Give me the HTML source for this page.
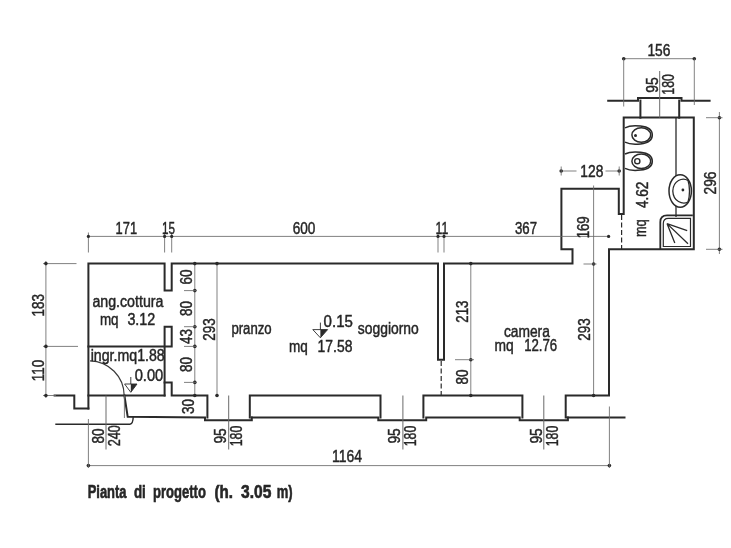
<!DOCTYPE html>
<html><head><meta charset="utf-8"><title>Pianta di progetto</title>
<style>
html,body{margin:0;padding:0;background:#fff;}
body{width:731px;height:548px;overflow:hidden;font-family:"Liberation Sans",sans-serif;}
svg{display:block;filter:blur(0.35px);}
text{font-family:"Liberation Sans",sans-serif;}
</style></head><body>
<svg width="731" height="548" viewBox="0 0 731 548">
<rect width="731" height="548" fill="#fff"/>
<path d="M88.4 408.5 V263.6 H164.6 V290.6 H171.7 V263.6 H438 V359.8 H444 V263.6 H572.5 V249.2 H561.4 V188.7 H618.8 V214 H623.7 V117.6 H693.8 V249.2 H609 V395.5 H565.7 V417.6 H624.5" fill="none" stroke="#2a2a2a" stroke-width="2.0" stroke-linejoin="miter" stroke-linecap="square"/>
<path d="M88.4 346.4 H171.7 V326.7 H164.6 V395.5" fill="none" stroke="#2a2a2a" stroke-width="2.0" stroke-linejoin="miter" stroke-linecap="square"/>
<path d="M164.6 382.4 H171.7 V395.5 H207.4 V417.6" fill="none" stroke="#2a2a2a" stroke-width="2.0" stroke-linejoin="miter" stroke-linecap="square"/>
<path d="M88.4 395.5 H164.6" fill="none" stroke="#2a2a2a" stroke-width="2.0" stroke-linejoin="miter" stroke-linecap="square"/>
<path d="M54.6 395.5 H74.3 V408.5 H88.4" fill="none" stroke="#2a2a2a" stroke-width="2.0" stroke-linejoin="miter" stroke-linecap="square"/>
<path d="M124.4 395.5 L127.7 416.8 L205 417.6 V420.3 H251.8 V417.6" fill="none" stroke="#2a2a2a" stroke-width="2.0" stroke-linejoin="miter" stroke-linecap="square"/>
<path d="M249.8 417.6 V395.5 H380.5 V417.6" fill="none" stroke="#2a2a2a" stroke-width="2.0" stroke-linejoin="miter" stroke-linecap="square"/>
<path d="M251.8 417.6 H378.3 V420.3 H426.2 V417.6 H519.7 V420.3 H567.9 V417.6" fill="none" stroke="#2a2a2a" stroke-width="2.0" stroke-linejoin="miter" stroke-linecap="square"/>
<path d="M423.4 417.6 V395.5 H522.4 V417.6" fill="none" stroke="#2a2a2a" stroke-width="2.0" stroke-linejoin="miter" stroke-linecap="square"/>
<path d="M608.2 100.7 H638 V98.1 H681.5 V100.7 H709.6" fill="none" stroke="#2a2a2a" stroke-width="2.0" stroke-linejoin="miter" stroke-linecap="square"/>
<path d="M640.4 100.6 V117.7" fill="none" stroke="#2a2a2a" stroke-width="2.0" stroke-linejoin="miter" stroke-linecap="square"/>
<path d="M679.2 100.6 V117.7" fill="none" stroke="#2a2a2a" stroke-width="2.0" stroke-linejoin="miter" stroke-linecap="square"/>
<path d="M56 424.3 H129.9 Q133 424 133.2 417" fill="none" stroke="#2a2a2a" stroke-width="1.4" stroke-linejoin="miter" stroke-linecap="square"/>
<path d="M676 117.7 V217" fill="none" stroke="#2a2a2a" stroke-width="1.3" />
<path d="M441.2 361 V395.5" fill="none" stroke="#2a2a2a" stroke-width="1.2" stroke-dasharray="5 2.5"/>
<path d="M621.6 215 V249" fill="none" stroke="#2a2a2a" stroke-width="1.2" stroke-dasharray="5 2.5"/>
<path d="M88.4 236.4 H609" fill="none" stroke="#6a6a6a" stroke-width="0.85" />
<path d="M88.4 232.5 V252.5" fill="none" stroke="#6a6a6a" stroke-width="0.85" />
<circle cx="88.4" cy="236.4" r="1.6" fill="#2a2a2a"/>
<path d="M164.6 232.5 V252.5" fill="none" stroke="#6a6a6a" stroke-width="0.85" />
<circle cx="164.6" cy="236.4" r="1.6" fill="#2a2a2a"/>
<path d="M171.7 232.5 V252.5" fill="none" stroke="#6a6a6a" stroke-width="0.85" />
<circle cx="171.7" cy="236.4" r="1.6" fill="#2a2a2a"/>
<path d="M438 232.5 V252.5" fill="none" stroke="#6a6a6a" stroke-width="0.85" />
<circle cx="438" cy="236.4" r="1.6" fill="#2a2a2a"/>
<path d="M444 232.5 V252.5" fill="none" stroke="#6a6a6a" stroke-width="0.85" />
<circle cx="444" cy="236.4" r="1.6" fill="#2a2a2a"/>
<circle cx="608.6" cy="236.4" r="1.6" fill="#2a2a2a"/>
<path d="M45.9 261 V398" fill="none" stroke="#6a6a6a" stroke-width="0.85" />
<path d="M43 263.6 H76.5" fill="none" stroke="#6a6a6a" stroke-width="0.85" />
<path d="M43 346.4 H78" fill="none" stroke="#6a6a6a" stroke-width="0.85" />
<path d="M43 395.5 H56" fill="none" stroke="#6a6a6a" stroke-width="0.85" />
<circle cx="45.9" cy="263.6" r="1.8" fill="#2a2a2a"/>
<circle cx="45.9" cy="346.4" r="1.8" fill="#2a2a2a"/>
<circle cx="45.9" cy="395.5" r="1.8" fill="#2a2a2a"/>
<path d="M194.8 263.6 V395.5" fill="none" stroke="#6a6a6a" stroke-width="0.85" />
<circle cx="194.8" cy="263.6" r="1.8" fill="#2a2a2a"/>
<circle cx="194.8" cy="290.6" r="1.8" fill="#2a2a2a"/>
<circle cx="194.8" cy="326.7" r="1.8" fill="#2a2a2a"/>
<circle cx="194.8" cy="346.4" r="1.8" fill="#2a2a2a"/>
<circle cx="194.8" cy="382.4" r="1.8" fill="#2a2a2a"/>
<circle cx="194.8" cy="395.5" r="1.8" fill="#2a2a2a"/>
<path d="M184 290.6 H197" fill="none" stroke="#6a6a6a" stroke-width="0.85" />
<path d="M184 326.7 H197" fill="none" stroke="#6a6a6a" stroke-width="0.85" />
<path d="M184 346.4 H197" fill="none" stroke="#6a6a6a" stroke-width="0.85" />
<path d="M184 382.4 H197" fill="none" stroke="#6a6a6a" stroke-width="0.85" />
<path d="M217 263.6 V395.5" fill="none" stroke="#6a6a6a" stroke-width="0.85" />
<circle cx="217" cy="263.6" r="1.8" fill="#2a2a2a"/>
<circle cx="217" cy="395.5" r="1.8" fill="#2a2a2a"/>
<path d="M470.8 263.6 V395.5" fill="none" stroke="#6a6a6a" stroke-width="0.85" />
<circle cx="470.8" cy="263.6" r="1.8" fill="#2a2a2a"/>
<circle cx="470.8" cy="359.7" r="1.8" fill="#2a2a2a"/>
<circle cx="470.8" cy="395.5" r="1.8" fill="#2a2a2a"/>
<path d="M455 359.7 H474" fill="none" stroke="#6a6a6a" stroke-width="0.85" />
<path d="M593.6 185.5 V395.5" fill="none" stroke="#6a6a6a" stroke-width="0.85" />
<circle cx="593.6" cy="264" r="1.8" fill="#2a2a2a"/>
<circle cx="593.6" cy="395.5" r="1.8" fill="#2a2a2a"/>
<path d="M583.5 264 H596.5" fill="none" stroke="#6a6a6a" stroke-width="0.85" />
<path d="M88.4 465.6 H609.4" fill="none" stroke="#6a6a6a" stroke-width="0.85" />
<circle cx="88.4" cy="465.6" r="1.8" fill="#2a2a2a"/>
<circle cx="609.4" cy="465.6" r="1.8" fill="#2a2a2a"/>
<path d="M88.4 419 V468" fill="none" stroke="#6a6a6a" stroke-width="0.85" />
<path d="M609.4 406.5 V468" fill="none" stroke="#6a6a6a" stroke-width="0.85" />
<path d="M106 395.5 V449.5" fill="none" stroke="#6a6a6a" stroke-width="1.0" />
<path d="M124.4 395.5 V418" fill="none" stroke="#6a6a6a" stroke-width="0.9" />
<path d="M228.7 395.5 V449.5" fill="none" stroke="#6a6a6a" stroke-width="1.0" />
<path d="M402.9 395.5 V449.5" fill="none" stroke="#6a6a6a" stroke-width="1.0" />
<path d="M543.8 395.5 V449.5" fill="none" stroke="#6a6a6a" stroke-width="1.0" />
<path d="M659.7 71 V117.7" fill="none" stroke="#6a6a6a" stroke-width="1.0" />
<path d="M623.7 58.7 H694.3" fill="none" stroke="#6a6a6a" stroke-width="0.85" />
<circle cx="623.7" cy="58.7" r="1.8" fill="#2a2a2a"/>
<circle cx="694.3" cy="58.7" r="1.8" fill="#2a2a2a"/>
<path d="M623.7 58.7 V106.5" fill="none" stroke="#6a6a6a" stroke-width="0.85" />
<path d="M694.3 58.7 V105" fill="none" stroke="#6a6a6a" stroke-width="0.85" />
<path d="M719.4 112 V254" fill="none" stroke="#6a6a6a" stroke-width="0.85" />
<circle cx="719.4" cy="117.7" r="1.8" fill="#2a2a2a"/>
<circle cx="719.4" cy="249.3" r="1.8" fill="#2a2a2a"/>
<path d="M706 117.7 H722.5" fill="none" stroke="#6a6a6a" stroke-width="0.85" />
<path d="M706 249.3 H722.5" fill="none" stroke="#6a6a6a" stroke-width="0.85" />
<path d="M561 171 H576.5 M605.5 171 H619.3" fill="none" stroke="#6a6a6a" stroke-width="0.85" />
<circle cx="561.2" cy="171" r="1.8" fill="#2a2a2a"/>
<circle cx="619.2" cy="171" r="1.8" fill="#2a2a2a"/>
<path d="M561.2 166.5 V175.5" fill="none" stroke="#6a6a6a" stroke-width="0.85" />
<path d="M619.2 166.5 V175.5" fill="none" stroke="#6a6a6a" stroke-width="0.85" />
<path d="M90 360.8 A35 35 0 0 1 124.2 395.5" fill="none" stroke="#3a3a3a" stroke-width="1.2" />
<path d="M124.6 384 H137 L130.8 392.3 Z" fill="none" stroke="#2a2a2a" stroke-width="0.9"/>
<path d="M130.8 384 H137 L130.8 392.3 Z" fill="#2a2a2a"/>
<path d="M130.8 384 V377" fill="none" stroke="#2a2a2a" stroke-width="0.9" />
<path d="M312.8 329.6 H327.6 L320.4 337.8 Z" fill="none" stroke="#2a2a2a" stroke-width="0.9"/>
<path d="M320.4 329.6 H327.6 L320.4 337.8 Z" fill="#2a2a2a"/>
<path d="M320.4 329.6 V322.6" fill="none" stroke="#2a2a2a" stroke-width="0.9" />
<path d="M625 127.8 C630 125.2 652.3 123.5 652.3 135 C652.3 146.5 630 144.8 625 142.2" fill="none" stroke="#2a2a2a" stroke-width="1.5"/>
<ellipse cx="641.3" cy="135" rx="9.4" ry="7.2" fill="none" stroke="#2a2a2a" stroke-width="1.5"/>
<circle cx="635.5" cy="135.4" r="1.5" fill="#2a2a2a"/>
<path d="M625 154.0 C630 151.39999999999998 652.3 149.7 652.3 161.2 C652.3 172.7 630 171.0 625 168.39999999999998" fill="none" stroke="#2a2a2a" stroke-width="1.5"/>
<ellipse cx="641.3" cy="161.2" rx="9.4" ry="7.2" fill="none" stroke="#2a2a2a" stroke-width="1.5"/>
<circle cx="637.3" cy="161.2" r="2.6" fill="none" stroke="#2a2a2a" stroke-width="1.4"/>
<ellipse cx="680.2" cy="191" rx="11.2" ry="16.2" fill="#fff" stroke="#2a2a2a" stroke-width="1.5"/>
<path d="M688 180.5 C690 186 690 196 688 202 C682.5 205 673.2 201.5 672.8 191 C673.2 180.5 682.5 177 688 180.5 Z" fill="none" stroke="#2a2a2a" stroke-width="1.3"/>
<circle cx="682.9" cy="190" r="1.4" fill="#2a2a2a"/>
<path d="M660.3 249 V222 Q660.3 215.3 667 215.3 H692.8" fill="none" stroke="#2a2a2a" stroke-width="1.8"/>
<path d="M663.3 246.5 V223.5 Q663.3 218.3 668.3 218.3 H690.5 V246.5 Z" fill="none" stroke="#2a2a2a" stroke-width="1.2"/>
<path d="M667 223.6 L687.2 230.6 M667 223.6 L688 243.8 M667 223.6 L674.8 243" fill="none" stroke="#2a2a2a" stroke-width="1.3" />
<g font-family="'Liberation Sans', sans-serif" fill="#262626" stroke="#262626" stroke-width="0.45">
<text x="126.3" y="233.7" font-size="16" text-anchor="middle" font-weight="normal" textLength="21.5" lengthAdjust="spacingAndGlyphs" >171</text>
<text x="168.4" y="233.7" font-size="16" text-anchor="middle" font-weight="normal" textLength="13" lengthAdjust="spacingAndGlyphs" >15</text>
<text x="304" y="233.7" font-size="16" text-anchor="middle" font-weight="normal" textLength="22.7" lengthAdjust="spacingAndGlyphs" >600</text>
<text x="441.9" y="233.7" font-size="16" text-anchor="middle" font-weight="normal" textLength="12.8" lengthAdjust="spacingAndGlyphs" >11</text>
<text x="526" y="233.7" font-size="16" text-anchor="middle" font-weight="normal" textLength="22" lengthAdjust="spacingAndGlyphs" >367</text>
<text x="347" y="462.3" font-size="16" text-anchor="middle" font-weight="normal" textLength="30" lengthAdjust="spacingAndGlyphs" >1164</text>
<text x="658.9" y="56.3" font-size="16" text-anchor="middle" font-weight="normal" textLength="23" lengthAdjust="spacingAndGlyphs" >156</text>
<text x="591.8" y="177" font-size="16" text-anchor="middle" font-weight="normal" textLength="23" lengthAdjust="spacingAndGlyphs" >128</text>
<text x="38" y="305.2" font-size="16" text-anchor="middle" textLength="22.5" lengthAdjust="spacingAndGlyphs" transform="rotate(-90 38 305.2) translate(0 5.83)">183</text>
<text x="38.3" y="370.4" font-size="16" text-anchor="middle" textLength="21.5" lengthAdjust="spacingAndGlyphs" transform="rotate(-90 38.3 370.4) translate(0 5.83)">110</text>
<text x="186" y="277" font-size="16" text-anchor="middle" textLength="15" lengthAdjust="spacingAndGlyphs" transform="rotate(-90 186 277) translate(0 5.83)">60</text>
<text x="186" y="308.6" font-size="16" text-anchor="middle" textLength="15" lengthAdjust="spacingAndGlyphs" transform="rotate(-90 186 308.6) translate(0 5.83)">80</text>
<text x="186" y="336.5" font-size="16" text-anchor="middle" textLength="15" lengthAdjust="spacingAndGlyphs" transform="rotate(-90 186 336.5) translate(0 5.83)">43</text>
<text x="186" y="364.4" font-size="16" text-anchor="middle" textLength="15" lengthAdjust="spacingAndGlyphs" transform="rotate(-90 186 364.4) translate(0 5.83)">80</text>
<text x="188" y="406.5" font-size="16" text-anchor="middle" textLength="15" lengthAdjust="spacingAndGlyphs" transform="rotate(-90 188 406.5) translate(0 5.83)">30</text>
<text x="208.7" y="329.4" font-size="16" text-anchor="middle" textLength="22.5" lengthAdjust="spacingAndGlyphs" transform="rotate(-90 208.7 329.4) translate(0 5.83)">293</text>
<text x="462.3" y="311.7" font-size="16" text-anchor="middle" textLength="22" lengthAdjust="spacingAndGlyphs" transform="rotate(-90 462.3 311.7) translate(0 5.83)">213</text>
<text x="462.3" y="377" font-size="16" text-anchor="middle" textLength="15" lengthAdjust="spacingAndGlyphs" transform="rotate(-90 462.3 377) translate(0 5.83)">80</text>
<text x="584" y="329.4" font-size="16" text-anchor="middle" textLength="22.5" lengthAdjust="spacingAndGlyphs" transform="rotate(-90 584 329.4) translate(0 5.83)">293</text>
<text x="583.3" y="227.3" font-size="16" text-anchor="middle" textLength="22" lengthAdjust="spacingAndGlyphs" transform="rotate(-90 583.3 227.3) translate(0 5.83)">169</text>
<text x="710.2" y="183" font-size="16" text-anchor="middle" textLength="23" lengthAdjust="spacingAndGlyphs" transform="rotate(-90 710.2 183) translate(0 5.83)">296</text>
<text x="97.8" y="436" font-size="16" text-anchor="middle" textLength="15" lengthAdjust="spacingAndGlyphs" transform="rotate(-90 97.8 436) translate(0 5.83)">80</text>
<text x="113.8" y="435.7" font-size="16" text-anchor="middle" textLength="21.2" lengthAdjust="spacingAndGlyphs" transform="rotate(-90 113.8 435.7) translate(0 5.83)">240</text>
<text x="220.5" y="435.9" font-size="16" text-anchor="middle" textLength="15.3" lengthAdjust="spacingAndGlyphs" transform="rotate(-90 220.5 435.9) translate(0 5.83)">95</text>
<text x="236.5" y="436" font-size="16" text-anchor="middle" textLength="20.6" lengthAdjust="spacingAndGlyphs" transform="rotate(-90 236.5 436) translate(0 5.83)">180</text>
<text x="394.5" y="435.9" font-size="16" text-anchor="middle" textLength="15.3" lengthAdjust="spacingAndGlyphs" transform="rotate(-90 394.5 435.9) translate(0 5.83)">95</text>
<text x="410.3" y="436" font-size="16" text-anchor="middle" textLength="20.6" lengthAdjust="spacingAndGlyphs" transform="rotate(-90 410.3 436) translate(0 5.83)">180</text>
<text x="535.8" y="435.9" font-size="16" text-anchor="middle" textLength="15.3" lengthAdjust="spacingAndGlyphs" transform="rotate(-90 535.8 435.9) translate(0 5.83)">95</text>
<text x="551.8" y="436" font-size="16" text-anchor="middle" textLength="20.6" lengthAdjust="spacingAndGlyphs" transform="rotate(-90 551.8 436) translate(0 5.83)">180</text>
<text x="651.8" y="85" font-size="16" text-anchor="middle" textLength="15.5" lengthAdjust="spacingAndGlyphs" transform="rotate(-90 651.8 85) translate(0 5.83)">95</text>
<text x="668" y="84.4" font-size="16" text-anchor="middle" textLength="20.6" lengthAdjust="spacingAndGlyphs" transform="rotate(-90 668 84.4) translate(0 5.83)">180</text>
<text x="641.9" y="194.8" font-size="16" text-anchor="middle" textLength="26.5" lengthAdjust="spacingAndGlyphs" transform="rotate(-90 641.9 194.8) translate(0 5.83)">4.62</text>
<text x="640.2" y="228.2" font-size="16" text-anchor="middle" textLength="17.8" lengthAdjust="spacingAndGlyphs" transform="rotate(-90 640.2 228.2) translate(0 5.83)">mq</text>
<text x="92.4" y="307" font-size="16" text-anchor="start" font-weight="normal" textLength="71" lengthAdjust="spacingAndGlyphs" >ang.cottura</text>
<text x="99.9" y="325.3" font-size="16" text-anchor="start" font-weight="normal" textLength="18.6" lengthAdjust="spacingAndGlyphs" >mq</text>
<text x="127.4" y="325.3" font-size="16" text-anchor="start" font-weight="normal" textLength="27.9" lengthAdjust="spacingAndGlyphs" >3.12</text>
<text x="90.7" y="361.3" font-size="16" text-anchor="start" font-weight="normal" textLength="74" lengthAdjust="spacingAndGlyphs" >ingr.mq1.88</text>
<text x="134.7" y="380.8" font-size="16.5" text-anchor="start" font-weight="normal" textLength="28.6" lengthAdjust="spacingAndGlyphs" >0.00</text>
<text x="231.4" y="334.4" font-size="16" text-anchor="start" font-weight="normal" textLength="40.3" lengthAdjust="spacingAndGlyphs" >pranzo</text>
<text x="323.6" y="327" font-size="16" text-anchor="start" font-weight="normal" textLength="29.3" lengthAdjust="spacingAndGlyphs" >0.15</text>
<text x="357.8" y="334.4" font-size="16" text-anchor="start" font-weight="normal" textLength="61" lengthAdjust="spacingAndGlyphs" >soggiorno</text>
<text x="288.9" y="352.4" font-size="16" text-anchor="start" font-weight="normal" textLength="18.8" lengthAdjust="spacingAndGlyphs" >mq</text>
<text x="317.6" y="352.4" font-size="16" text-anchor="start" font-weight="normal" textLength="34.8" lengthAdjust="spacingAndGlyphs" >17.58</text>
<text x="503.9" y="336.6" font-size="16" text-anchor="start" font-weight="normal" textLength="46" lengthAdjust="spacingAndGlyphs" >camera</text>
<text x="494.4" y="351.3" font-size="16" text-anchor="start" font-weight="normal" textLength="19.2" lengthAdjust="spacingAndGlyphs" >mq</text>
<text x="524.2" y="351.3" font-size="16" text-anchor="start" font-weight="normal" textLength="33" lengthAdjust="spacingAndGlyphs" >12.76</text>
<text x="87.7" y="498" font-size="17.6" text-anchor="start" font-weight="bold" textLength="38.8" lengthAdjust="spacingAndGlyphs" stroke-width="0.6">Pianta</text>
<text x="133.9" y="498" font-size="17.6" text-anchor="start" font-weight="bold" textLength="11.8" lengthAdjust="spacingAndGlyphs" stroke-width="0.6">di</text>
<text x="153.1" y="498" font-size="17.6" text-anchor="start" font-weight="bold" textLength="52.8" lengthAdjust="spacingAndGlyphs" stroke-width="0.6">progetto</text>
<text x="214.4" y="498" font-size="17.6" text-anchor="start" font-weight="bold" textLength="18.5" lengthAdjust="spacingAndGlyphs" stroke-width="0.6">(h.</text>
<text x="241" y="498" font-size="17.6" text-anchor="start" font-weight="bold" textLength="30.3" lengthAdjust="spacingAndGlyphs" stroke-width="0.6">3.05</text>
<text x="276.8" y="498" font-size="17.6" text-anchor="start" font-weight="bold" textLength="15.9" lengthAdjust="spacingAndGlyphs" stroke-width="0.6">m)</text>
</g>
</svg>
</body></html>
